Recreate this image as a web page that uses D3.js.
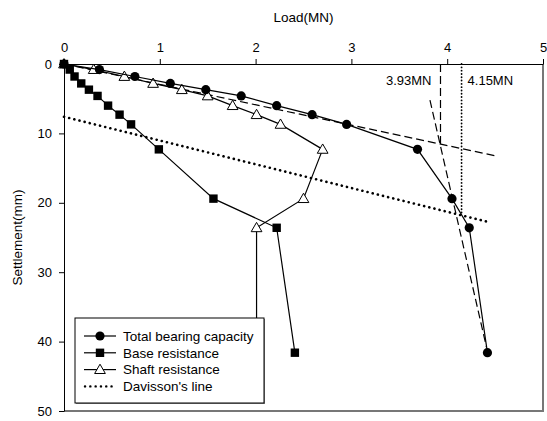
<!DOCTYPE html>
<html>
<head>
<meta charset="utf-8">
<script src="https://cdn.jsdelivr.net/npm/d3@7"></script>
<style>
  body { margin: 0; background: #fff; }
  svg { font-family: Arial, "Liberation Sans", sans-serif; }
  .axis text { font-size: 13px; fill: #000; }
  .axis path, .axis line { stroke: #000; }
</style>
</head>
<body>
<div id="chart"></div>
<script>
// settlement (mm) shared by the three measured series
var settlement = [0, 0.8, 1.8, 2.8, 3.7, 4.6, 6.0, 7.3, 8.7, 12.3, 19.4, 23.6, 41.6];
var totalLoad  = [0, 0.37, 0.74, 1.11, 1.48, 1.85, 2.22, 2.59, 2.95, 3.69, 4.05, 4.23, 4.42];
var baseLoad   = [0, 0.06, 0.11, 0.18, 0.26, 0.35, 0.46, 0.58, 0.70, 0.99, 1.56, 2.22, 2.41];
var shaftLoad  = [0, 0.31, 0.63, 0.93, 1.23, 1.50, 1.76, 2.01, 2.26, 2.70, 2.50, 2.01, 2.01];

// construction lines [load, settlement]
var davissonLine = [[0, 7.6], [4.44, 22.8]];
var tangentInitial = [[0, 0], [4.51, 13.25]];
var tangentFinal = [[3.82, 5.2], [4.41, 40.8]];
var capacity1 = [[3.93, 0], [3.93, 11.6]];
var capacity2 = [[4.15, 0], [4.15, 21.5]];

var xTicks = [0, 1, 2, 3, 4, 5];
var yTicks = [0, 10, 20, 30, 40, 50];

var width = 547, height = 421,
    margin = {top: 64, right: 4, bottom: 10, left: 64},
    w = width - margin.left - margin.right,
    h = height - margin.top - margin.bottom;

var svg = d3.select("#chart").append("svg")
    .attr("width", width)
    .attr("height", height);

var g = svg.append("g")
    .attr("transform", "translate(" + margin.left + "," + margin.top + ")");

var x = d3.scaleLinear().domain([0, 5]).range([0, w]);
var y = d3.scaleLinear().domain([0, 50]).range([0, h]);

// right + bottom frame (grey)
g.append("path")
    .attr("d", "M" + x(0) + "," + y(50) + "H" + x(5) + "V" + y(0))
    .attr("fill", "none")
    .attr("stroke", "#777")
    .attr("stroke-width", 2);

g.append("g")
    .attr("class", "axis")
    .call(d3.axisTop(x).tickValues(xTicks).tickFormat(d3.format("d")).tickSize(5).tickSizeOuter(0).tickPadding(7));

g.append("g")
    .attr("class", "axis")
    .call(d3.axisLeft(y).tickValues(yTicks).tickFormat(d3.format("d")).tickSize(5).tickSizeOuter(0).tickPadding(7));

svg.append("text")
    .attr("x", margin.left + w / 2)
    .attr("y", 22)
    .attr("text-anchor", "middle")
    .style("font-size", "13.5px")
    .text("Load(MN)");

svg.append("text")
    .attr("transform", "translate(17," + (margin.top + h / 2) + ") rotate(-90)")
    .attr("text-anchor", "middle")
    .attr("dy", "0.35em")
    .style("font-size", "13.5px")
    .text("Settlement(mm)");

var line = d3.line()
    .x(function(d) { return x(d[0]); })
    .y(function(d) { return y(d[1]); });

function pairs(loads) {
  return loads.map(function(v, i) { return [v, settlement[i]]; });
}

// construction lines
g.append("path").datum(davissonLine)
    .attr("d", line).attr("fill", "none")
    .attr("stroke", "#000").attr("stroke-width", 2.6)
    .attr("stroke-dasharray", "0.1,5.2").attr("stroke-linecap", "round");

[tangentInitial, tangentFinal, capacity1].forEach(function(l) {
  g.append("path").datum(l)
      .attr("d", line).attr("fill", "none")
      .attr("stroke", "#000").attr("stroke-width", 1.2)
      .attr("stroke-dasharray", "8,4");
});

g.append("path").datum(capacity2)
    .attr("d", line).attr("fill", "none")
    .attr("stroke", "#000").attr("stroke-width", 1.8)
    .attr("stroke-dasharray", "0.1,3.2").attr("stroke-linecap", "round");

g.append("text")
    .attr("x", x(3.93) - 9).attr("y", y(0) + 21)
    .attr("text-anchor", "end")
    .style("font-size", "13px")
    .text("3.93MN");

g.append("text")
    .attr("x", x(4.15) + 6).attr("y", y(0) + 21)
    .style("font-size", "13px")
    .text("4.15MN");

var triangle = d3.symbol().type(d3.symbolTriangle).size(50);

function drawSeries(loads, marker) {
  var pts = pairs(loads);
  g.append("path").datum(pts)
      .attr("d", line).attr("fill", "none")
      .attr("stroke", "#000").attr("stroke-width", 1.2);
  var sel = g.append("g").selectAll("path.m").data(pts).enter();
  if (marker === "circle") {
    sel.append("circle")
        .attr("cx", function(d) { return x(d[0]); })
        .attr("cy", function(d) { return y(d[1]); })
        .attr("r", 4.6).attr("fill", "#000");
  } else if (marker === "square") {
    sel.append("rect")
        .attr("x", function(d) { return x(d[0]) - 4.2; })
        .attr("y", function(d) { return y(d[1]) - 4.2; })
        .attr("width", 8.4).attr("height", 8.4).attr("fill", "#000");
  } else {
    sel.append("path")
        .attr("d", triangle)
        .attr("transform", function(d) { return "translate(" + x(d[0]) + "," + (y(d[1]) + 0.8) + ")"; })
        .attr("fill", "#fff").attr("stroke", "#000").attr("stroke-width", 1);
  }
}

drawSeries(shaftLoad, "triangle");
drawSeries(baseLoad, "square");
drawSeries(totalLoad, "circle");

// legend
var legendItems = ["Total bearing capacity", "Base resistance", "Shaft resistance", "Davisson's line"];
var lg = svg.append("g").attr("transform", "translate(75,318)");
lg.append("rect")
    .attr("x", 1).attr("y", 1).attr("width", 189).attr("height", 85)
    .attr("fill", "#888");
lg.append("rect")
    .attr("width", 189).attr("height", 85)
    .attr("fill", "#fff").attr("stroke", "#000").attr("stroke-width", 1);

legendItems.forEach(function(name, i) {
  var cy = 18 + i * 16.8;
  var row = lg.append("g").attr("transform", "translate(0," + cy + ")");
  if (i < 3) {
    row.append("line").attr("x1", 9).attr("x2", 41)
        .attr("stroke", "#000").attr("stroke-width", 1.2);
  }
  if (i === 0) {
    row.append("circle").attr("cx", 25).attr("r", 4.6).attr("fill", "#000");
  } else if (i === 1) {
    row.append("rect").attr("x", 20.8).attr("y", -4.2).attr("width", 8.4).attr("height", 8.4).attr("fill", "#000");
  } else if (i === 2) {
    row.append("path").attr("d", triangle).attr("transform", "translate(25,0.8)")
        .attr("fill", "#fff").attr("stroke", "#000").attr("stroke-width", 1);
  } else {
    row.append("line").attr("x1", 10).attr("x2", 41)
        .attr("stroke", "#000").attr("stroke-width", 2.4)
        .attr("stroke-dasharray", "0.1,5.2").attr("stroke-linecap", "round");
  }
  row.append("text").attr("x", 48).attr("dy", "0.35em")
      .style("font-size", "13.5px")
      .text(name);
});
</script>
</body>
</html>
